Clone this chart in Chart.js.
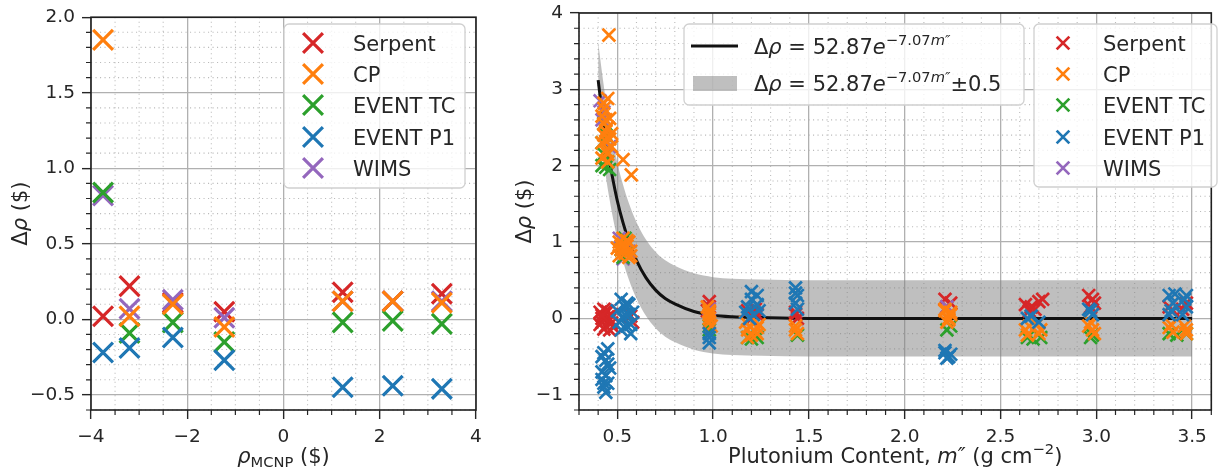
<!DOCTYPE html>
<html>
<head>
<meta charset="utf-8">
<script src="https://cdn.jsdelivr.net/npm/chart.js@4/dist/chart.umd.min.js"></script>
<style>
  html, body { margin: 0; padding: 0; background: #fff; }
  #wrap { position: relative; width: 1223px; height: 471px; overflow: hidden; }
  canvas { position: absolute; top: 0; }
  #c-left  { left: 0; }
  #c-right { left: 500px; }
</style>
</head>
<body>
<div id="wrap">
  <canvas id="c-left" width="500" height="471"></canvas>
  <canvas id="c-right" width="723" height="471"></canvas>
</div>
<script>
'use strict';

/* ── Data: left panel (Δρ vs ρ_MCNP) ── */
const LEFT_RHO     = [-3.75, -3.2, -2.3, -1.23, 1.23, 2.27, 3.29];
const LEFT_SERPENT = [0.02, 0.22, 0.11, 0.05, 0.18, 0.12, 0.17];
const LEFT_CP      = [1.85, 0.02, 0.10, -0.05, 0.12, 0.12, 0.11];
const LEFT_TC      = [0.84, -0.09, -0.02, -0.15, -0.02, -0.01, -0.03];
const LEFT_P1      = [-0.22, -0.19, -0.12, -0.27, -0.45, -0.44, -0.46];
const LEFT_WIMS    = [0.82, 0.07, 0.13, 0.01, 0.12, 0.12, 0.12];

/* ── Data: right panel (Δρ vs plutonium content m'') ── */
const R_SERPENT_M = [0.41, 0.42, 0.43, 0.44, 0.45, 0.46, 0.47, 0.42, 0.44, 0.46, 0.41, 0.48, 0.43, 0.45, 0.47, 0.42,
  0.58, 0.57,
  0.98, 0.98, 0.97, 1.18, 1.23, 1.20, 1.22, 1.43, 1.44, 1.43, 2.21, 2.24, 2.22,
  2.63, 2.66, 2.70, 2.72, 2.65, 2.68, 2.96, 2.98, 2.97, 2.99, 3.38, 3.47, 3.40, 3.45];
const R_SERPENT_D = [0.08, -0.05, 0.12, -0.10, 0.02, -0.15, 0.05, 0.00, 0.10, -0.02, -0.08, -0.12, -0.14, 0.09, -0.06, 0.04,
  -0.05, 0.03,
  0.22, 0.15, 0.10, 0.10, 0.05, 0.00, 0.12, 0.05, 0.00, 0.08, 0.25, 0.20, 0.15,
  0.18, 0.15, 0.22, 0.25, 0.10, 0.12, 0.30, 0.25, 0.15, 0.20, 0.15, 0.20, 0.10, 0.12];

const R_CP_M = [0.456, 0.45, 0.43, 0.44, 0.42, 0.45, 0.43, 0.46, 0.42, 0.44, 0.45, 0.43, 0.47, 0.44, 0.42,
  0.43, 0.46, 0.44, 0.45, 0.47, 0.53, 0.573,
  0.51, 0.52, 0.53, 0.54, 0.55, 0.56, 0.52, 0.57, 0.50, 0.55, 0.51, 0.53, 0.56, 0.54, 0.57,
  0.98, 0.98, 0.98, 0.98, 0.97, 0.99, 0.98,
  1.18, 1.23, 1.19, 1.23, 1.20, 1.17, 1.24, 1.18, 1.22, 1.43, 1.44, 1.43,
  2.21, 2.23, 2.22, 2.24, 2.21, 2.23, 2.24,
  2.63, 2.70, 2.65, 2.71, 2.64, 2.69, 2.96, 2.98, 2.99, 2.97,
  3.38, 3.47, 3.40, 3.46, 3.39, 3.47];
const R_CP_D = [3.71, 2.88, 2.75, 2.60, 2.65, 2.50, 2.40, 2.35, 2.30, 2.20, 2.15, 2.55, 2.25, 2.45, 2.10,
  2.82, 2.62, 2.32, 2.05, 2.42, 2.08, 1.88,
  1.00, 0.90, 1.05, 0.85, 0.95, 0.80, 0.95, 0.88, 0.92, 1.02, 0.82, 0.97, 1.00, 0.92, 0.82,
  0.10, 0.00, -0.05, 0.05, 0.15, -0.10, 0.08,
  -0.15, -0.20, -0.10, -0.12, -0.22, -0.05, -0.08, -0.25, -0.17, -0.15, -0.20, -0.10,
  0.10, 0.00, -0.05, 0.05, 0.12, -0.02, 0.08,
  -0.15, -0.20, -0.10, -0.15, -0.22, -0.08, -0.10, -0.15, -0.20, -0.05,
  -0.12, -0.15, -0.18, -0.10, -0.08, -0.20];

const R_TC_M = [0.42, 0.44, 0.45, 0.43, 0.46, 0.42, 0.44, 0.43, 0.52, 0.55, 0.54, 0.53,
  0.98, 0.98, 1.18, 1.23, 1.20, 1.44, 2.22, 2.24, 2.64, 2.71, 2.67, 2.97, 2.98, 3.38, 3.47, 3.42];
const R_TC_D = [2.00, 1.98, 2.05, 2.15, 1.95, 2.30, 2.40, 2.55, 0.90, 0.85, 1.05, 0.80,
  -0.10, -0.15, -0.25, -0.25, -0.27, -0.22, -0.15, -0.10, -0.25, -0.25, -0.27, -0.25, -0.22, -0.20, -0.20, -0.22];

const R_P1_M = [0.43, 0.44, 0.42, 0.45, 0.43, 0.42, 0.44, 0.46, 0.45, 0.43, 0.44, 0.42, 0.45,
  0.50, 0.52, 0.53, 0.54, 0.55, 0.56, 0.57, 0.51, 0.55, 0.58, 0.52, 0.54, 0.56, 0.57,
  0.98, 0.98, 0.98,
  1.18, 1.20, 1.23, 1.21, 1.24, 1.20, 1.17, 1.23, 1.19,
  1.43, 1.44, 1.43, 1.44, 1.43,
  2.21, 2.23, 2.24, 2.22, 2.21, 2.64, 2.70, 2.66, 2.97, 2.98, 2.96,
  3.38, 3.40, 3.46, 3.47, 3.39, 3.45, 3.41, 3.47, 3.38];
const R_P1_D = [-0.45, -0.55, -0.70, -0.60, -0.85, -0.80, -0.97, -0.65, -0.40, -0.90, -0.75, -0.50, -0.85,
  0.10, 0.25, 0.00, 0.15, -0.10, 0.05, -0.20, -0.05, 0.20, 0.08, -0.15, 0.05, 0.18, -0.08,
  -0.25, -0.32, -0.20,
  0.15, 0.25, 0.30, 0.05, 0.10, 0.35, 0.08, 0.18, 0.00,
  0.40, 0.30, 0.20, 0.12, 0.33,
  -0.45, -0.50, -0.47, -0.52, -0.42, 0.00, -0.05, 0.03, 0.10, 0.05, 0.12,
  0.30, 0.20, 0.25, 0.15, 0.10, 0.05, 0.32, 0.30, 0.05];

const R_WIMS_M = [0.41, 0.43, 0.45, 0.42, 0.46, 0.51, 0.53, 0.55, 0.56, 0.98, 2.22];
const R_WIMS_D = [2.85, 2.70, 2.50, 2.60, 2.25, 1.05, 0.78, 1.00, 0.88, 0.12, 0.15];

const FIT_M  = [0.40, 0.42, 0.44, 0.46, 0.48, 0.50, 0.53, 0.56, 0.60, 0.65, 0.70, 0.75, 0.80, 0.90, 1.00, 1.10, 1.25, 1.50, 2.00, 2.50, 3.00, 3.50];
const FIT_D  = [3.12, 2.72, 2.36, 2.05, 1.78, 1.54, 1.25, 1.01, 0.76, 0.53, 0.37, 0.26, 0.19, 0.09, 0.04, 0.02, 0.01, 0.00, 0.00, 0.00, 0.00, 0.00];
const BAND_HI = [3.62, 3.22, 2.86, 2.55, 2.28, 2.04, 1.75, 1.51, 1.26, 1.03, 0.87, 0.76, 0.69, 0.59, 0.54, 0.52, 0.51, 0.50, 0.50, 0.50, 0.50, 0.50];
const BAND_LO = [2.62, 2.22, 1.86, 1.55, 1.28, 1.04, 0.75, 0.51, 0.26, 0.03, -0.13, -0.24, -0.31, -0.41, -0.46, -0.48, -0.49, -0.50, -0.50, -0.50, -0.50, -0.50];

/* ── Series names / colours ── */
const SERIES_NAMES  = ['Serpent', 'CP', 'EVENT TC', 'EVENT P1', 'WIMS'];
const SERIES_COLORS = ['#d62728', '#ff7f0e', '#2ca02c', '#1f77b4', '#9467bd'];
const SERIES_ORDER  = [4, 1, 2, 0, 3];   // draw order: P1 on top, Serpent at the bottom

/* ── Ticks ── */
const LEFT_XT      = [-4, -2, 0, 2, 4];
const LEFT_XT_LBL  = ['\u22124', '\u22122', '0', '2', '4'];
const LEFT_YT      = [-0.5, 0, 0.5, 1, 1.5, 2];
const LEFT_YT_LBL  = ['\u22120.5', '0.0', '0.5', '1.0', '1.5', '2.0'];
const RIGHT_XT     = [0.5, 1, 1.5, 2, 2.5, 3, 3.5];
const RIGHT_XT_LBL = ['0.5', '1.0', '1.5', '2.0', '2.5', '3.0', '3.5'];
const RIGHT_YT     = [-1, 0, 1, 2, 3, 4];
const RIGHT_YT_LBL = ['\u22121', '0', '1', '2', '3', '4'];

const FONT = '"DejaVu Sans", sans-serif';
const TEXT = '#262626';
const TICK_SIZE = 18.5;
const LABEL_SIZE = 21;
const LEGEND_SIZE = 21;

/* minor tick positions (every `d` between a and b, skipping majors) */
function minorSteps(a, b, d, majors) {
  const out = [];
  const n = Math.round((b - a) / d);
  for (let i = 0; i <= n; i++) {
    const v = +(a + i * d).toFixed(4);
    if (!majors.some(m => Math.abs(m - v) < 1e-6)) out.push(v);
  }
  return out;
}

function toPoints(xs, ys) {
  return xs.map((x, i) => ({ x, y: ys[i] }));
}

/* ============================================================
   Text helpers (mathtext-like: italics, sub/superscripts)
   ============================================================ */
function partFont(p, size) {
  const s = size * (p.s || 1);
  return (p.i ? 'italic ' : '') + s + 'px ' + FONT;
}

function richWidth(ctx, parts, size) {
  let w = 0;
  parts.forEach(p => { ctx.font = partFont(p, size); w += ctx.measureText(p.t).width; });
  return w;
}

/* draws parts with left edge at x (or centered when align === 'center'), vertically centred on y */
function drawRich(ctx, parts, x, y, size, align) {
  ctx.save();
  ctx.fillStyle = TEXT;
  ctx.textBaseline = 'alphabetic';
  ctx.textAlign = 'left';
  let cx = align === 'center' ? x - richWidth(ctx, parts, size) / 2 : x;
  const base = y + size * 0.36;
  parts.forEach(p => {
    ctx.font = partFont(p, size);
    ctx.fillText(p.t, cx, base + (p.dy || 0) * size);
    cx += ctx.measureText(p.t).width;
  });
  ctx.restore();
}

function drawX(ctx, x, y, r, lw, color) {
  const d = r * Math.SQRT1_2;
  ctx.save();
  ctx.strokeStyle = color;
  ctx.lineWidth = lw;
  ctx.beginPath();
  ctx.moveTo(x - d, y - d); ctx.lineTo(x + d, y + d);
  ctx.moveTo(x + d, y - d); ctx.lineTo(x - d, y + d);
  ctx.stroke();
  ctx.restore();
}

function legendBox(ctx, x, y, w, h) {
  const r = 5;
  ctx.save();
  ctx.beginPath();
  ctx.moveTo(x + r, y);
  ctx.arcTo(x + w, y, x + w, y + h, r);
  ctx.arcTo(x + w, y + h, x, y + h, r);
  ctx.arcTo(x, y + h, x, y, r);
  ctx.arcTo(x, y, x + w, y, r);
  ctx.closePath();
  ctx.fillStyle = 'rgba(255,255,255,0.8)';
  ctx.fill();
  ctx.strokeStyle = '#d0d0d0';
  ctx.lineWidth = 1.3;
  ctx.stroke();
  ctx.restore();
}

/* ============================================================
   Plugin: minor grid, minor ticks, frame, axis titles, legends
   ============================================================ */
function mplPlugin(cfg) {
  return {
    id: 'mpl_' + cfg.name,
    beforeDatasetsDraw(chart) {
      const { ctx, chartArea: a, scales: { x, y } } = chart;
      ctx.save();
      ctx.strokeStyle = 'rgba(175,175,175,0.85)';
      ctx.lineWidth = 1.1;
      ctx.setLineDash([1.1, 3.4]);
      ctx.beginPath();
      cfg.xMinor.forEach(v => {
        const px = x.getPixelForValue(v);
        ctx.moveTo(px, a.top); ctx.lineTo(px, a.bottom);
      });
      cfg.yMinor.forEach(v => {
        const py = y.getPixelForValue(v);
        ctx.moveTo(a.left, py); ctx.lineTo(a.right, py);
      });
      ctx.stroke();
      ctx.setLineDash([]);
      ctx.strokeStyle = TEXT;
      ctx.lineWidth = 1.2;
      ctx.beginPath();
      cfg.xMinor.forEach(v => {
        const px = x.getPixelForValue(v);
        ctx.moveTo(px, a.bottom); ctx.lineTo(px, a.bottom + 5);
      });
      cfg.yMinor.forEach(v => {
        const py = y.getPixelForValue(v);
        ctx.moveTo(a.left, py); ctx.lineTo(a.left - 5, py);
      });
      ctx.stroke();
      ctx.restore();
    },
    afterDatasetsDraw(chart) {
      const { ctx, chartArea: a } = chart;
      ctx.save();
      ctx.strokeStyle = '#1f1f1f';
      ctx.lineWidth = 1.6;
      ctx.strokeRect(a.left, a.top, a.right - a.left, a.bottom - a.top);
      ctx.restore();
    },
    afterDraw(chart) {
      const { ctx, chartArea: a } = chart;
      /* x title */
      drawRich(ctx, cfg.xTitle, (a.left + a.right) / 2, cfg.xTitleY, LABEL_SIZE, 'center');
      /* y title, rotated */
      ctx.save();
      ctx.translate(cfg.yTitleX, (a.top + a.bottom) / 2);
      ctx.rotate(-Math.PI / 2);
      drawRich(ctx, cfg.yTitle, 0, 0, LABEL_SIZE, 'center');
      ctx.restore();
      cfg.legends.forEach(lg => lg(ctx));
    }
  };
}

/* ── Legend drawers ── */
function seriesLegend(bx, by, bw, bh, mx, tx, rows, r, lw) {
  return ctx => {
    legendBox(ctx, bx, by, bw, bh);
    SERIES_NAMES.forEach((name, i) => {
      drawX(ctx, mx, rows[i], r, lw, SERIES_COLORS[i]);
      drawRich(ctx, [{ t: name }], tx, rows[i], LEGEND_SIZE, 'left');
    });
  };
}

const FIT_LABEL = [
  { t: '\u0394' }, { t: '\u03c1', i: true }, { t: ' = 52.87' }, { t: 'e', i: true },
  { t: '\u22127.07', s: 0.7, dy: -0.42 }, { t: 'm\u2033', i: true, s: 0.7, dy: -0.42 }
];

function fitLegend(ctx) {
  const ox = -500;
  legendBox(ctx, 684 + ox, 24, 340, 81);
  ctx.save();
  ctx.strokeStyle = '#111';
  ctx.lineWidth = 3;
  ctx.beginPath();
  ctx.moveTo(691 + ox, 46); ctx.lineTo(738 + ox, 46);
  ctx.stroke();
  ctx.fillStyle = 'rgba(128,128,128,0.5)';
  ctx.fillRect(693 + ox, 76, 44, 15);
  ctx.restore();
  drawRich(ctx, FIT_LABEL, 754 + ox, 46, LEGEND_SIZE, 'left');
  drawRich(ctx, FIT_LABEL.concat([{ t: '\u00b10.5' }]), 754 + ox, 83, LEGEND_SIZE, 'left');
}

/* ── Common scale builder ── */
function linearScale(min, max, ticks, labels, size) {
  return {
    type: 'linear',
    min, max,
    afterBuildTicks: s => { s.ticks = ticks.map(v => ({ value: v })); },
    afterFit: s => {
      if (s.isHorizontal()) { s.height = size; s.paddingLeft = 0; s.paddingRight = 0; }
      else { s.width = size; s.paddingTop = 0; s.paddingBottom = 0; }
    },
    ticks: {
      autoSkip: false, maxRotation: 0, minRotation: 0,
      padding: 7,
      color: TEXT,
      font: { family: FONT, size: TICK_SIZE },
      callback: (v, i) => labels[i],
    },
    grid: {
      color: '#b0b0b0', lineWidth: 1.3,
      tickColor: TEXT, tickLength: 9, tickWidth: 1.4,
    },
    border: { display: false },
  };
}

function scatterSet(i, xs, ys, r, lw) {
  return {
    type: 'scatter',
    label: SERIES_NAMES[i],
    data: toPoints(xs, ys),
    order: SERIES_ORDER[i],
    pointStyle: 'crossRot',
    pointRadius: r, pointHoverRadius: r,
    pointBorderWidth: lw, pointHoverBorderWidth: lw,
    borderColor: SERIES_COLORS[i],
    backgroundColor: SERIES_COLORS[i],
  };
}

const baseOptions = (padRight) => ({
  responsive: false,
  animation: false,
  devicePixelRatio: 1,
  events: [],
  layout: { padding: { top: 13, right: padRight, left: 0, bottom: 0 } },
  plugins: { legend: { display: false }, tooltip: { enabled: false } },
});

/* ============================================================
   LEFT PANEL
   ============================================================ */
const leftSeries = [LEFT_SERPENT, LEFT_CP, LEFT_TC, LEFT_P1, LEFT_WIMS];

new Chart(document.getElementById('c-left'), {
  type: 'scatter',
  data: { datasets: leftSeries.map((ys, i) => scatterSet(i, LEFT_RHO, ys, 14, 3.2)) },
  options: {
    ...baseOptions(24),
    scales: {
      x: linearScale(-4, 4, LEFT_XT, LEFT_XT_LBL, 61),
      y: linearScale(-0.6, 2.0, LEFT_YT, LEFT_YT_LBL, 91),
    },
  },
  plugins: [mplPlugin({
    name: 'left',
    xMinor: minorSteps(-4, 4, 0.5, LEFT_XT),
    yMinor: minorSteps(-0.6, 2.0, 0.1, LEFT_YT),
    xTitle: [{ t: '\u03c1', i: true }, { t: 'MCNP', s: 0.7, dy: 0.22 }, { t: ' ($)' }],
    xTitleY: 455,
    yTitle: [{ t: '\u0394' }, { t: '\u03c1', i: true }, { t: ' ($)' }],
    yTitleX: 19,
    legends: [seriesLegend(284, 24, 181, 164, 313, 353, [43, 74, 105, 137, 168], 14, 3.2)],
  })],
});

/* ============================================================
   RIGHT PANEL
   ============================================================ */
const rightM = [R_SERPENT_M, R_CP_M, R_TC_M, R_P1_M, R_WIMS_M];
const rightD = [R_SERPENT_D, R_CP_D, R_TC_D, R_P1_D, R_WIMS_D];

new Chart(document.getElementById('c-right'), {
  type: 'scatter',
  data: {
    datasets: [
      ...rightM.map((xs, i) => scatterSet(i, xs, rightD[i], 9, 2.7)),
      {
        type: 'line', label: 'fit',
        data: toPoints(FIT_M, FIT_D),
        order: 10,
        borderColor: '#111', borderWidth: 3,
        pointRadius: 0, cubicInterpolationMode: 'monotone', fill: false,
      },
      {
        type: 'line', label: 'band hi',
        data: toPoints(FIT_M, BAND_HI),
        order: 20,
        borderWidth: 0, borderColor: 'rgba(0,0,0,0)',
        pointRadius: 0, cubicInterpolationMode: 'monotone',
        fill: '+1', backgroundColor: 'rgba(128,128,128,0.5)',
      },
      {
        type: 'line', label: 'band lo',
        data: toPoints(FIT_M, BAND_LO),
        order: 20,
        borderWidth: 0, borderColor: 'rgba(0,0,0,0)',
        pointRadius: 0, cubicInterpolationMode: 'monotone', fill: false,
      },
    ],
  },
  options: {
    ...baseOptions(2),
    scales: {
      x: linearScale(0.3, 3.6, RIGHT_XT, RIGHT_XT_LBL, 61),
      y: linearScale(-1.2, 4.0, RIGHT_YT, RIGHT_YT_LBL, 79),
    },
  },
  plugins: [mplPlugin({
    name: 'right',
    xMinor: minorSteps(0.3, 3.6, 0.1, RIGHT_XT),
    yMinor: minorSteps(-1.2, 4.0, 0.2, RIGHT_YT),
    xTitle: [
      { t: 'Plutonium Content, ' }, { t: 'm\u2033', i: true }, { t: ' (g cm' },
      { t: '\u22122', s: 0.7, dy: -0.42 }, { t: ')' }
    ],
    xTitleY: 455,
    yTitle: [{ t: '\u0394' }, { t: '\u03c1', i: true }, { t: ' ($)' }],
    yTitleX: 23,
    legends: [
      fitLegend,
      seriesLegend(534, 24, 183, 163, 563, 603, [43, 74, 105, 137, 168], 9, 2.7),
    ],
  })],
});
</script>
</body>
</html>
